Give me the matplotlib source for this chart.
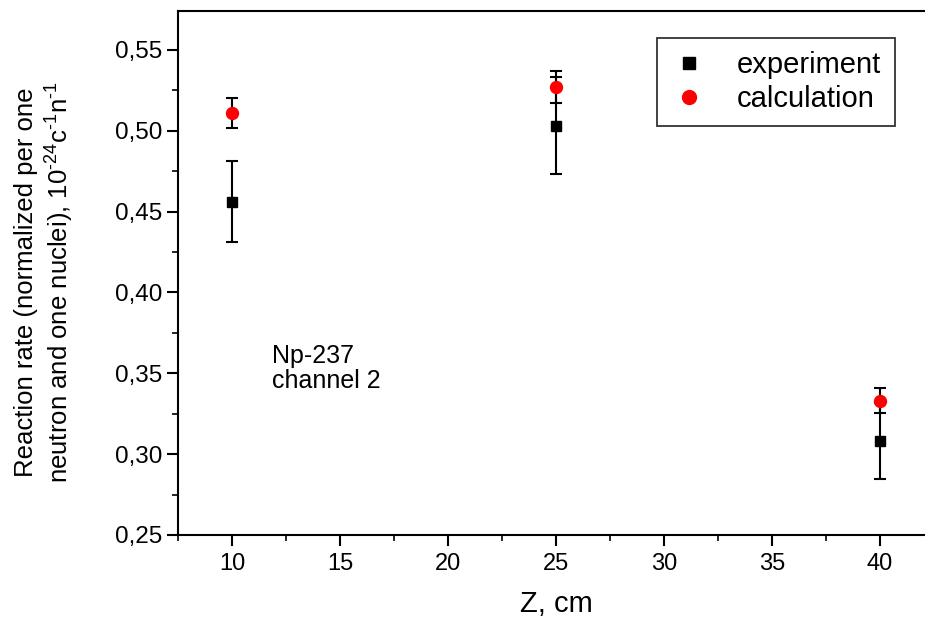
import matplotlib
matplotlib.use("Agg")
import matplotlib.pyplot as plt
from matplotlib.ticker import MultipleLocator, FuncFormatter
from matplotlib.lines import Line2D

# Measurement positions along the channel and reaction rates
z_cm = [10, 25, 40]
experiment = [0.456, 0.503, 0.308]
experiment_err = [0.025, 0.030, 0.0235]
calculation = [0.511, 0.527, 0.333]
calculation_err = [0.0095, 0.0098, 0.0078]

plt.rcParams["font.family"] = ["Liberation Sans", "DejaVu Sans"]
plt.rcParams["mathtext.fontset"] = "custom"
plt.rcParams["mathtext.rm"] = "Liberation Sans"
plt.rcParams["mathtext.default"] = "regular"

fig = plt.figure(figsize=(9.25, 6.22), dpi=100)
ax = fig.add_axes([178 / 925, 87 / 622, 756 / 925, 524 / 622])

ax.errorbar(z_cm, experiment, yerr=experiment_err, fmt="s", color="black",
            markersize=7, mfc="black", mec="black", ecolor="black",
            elinewidth=1.5, capsize=4.2, capthick=1.5, zorder=3)
ax.errorbar(z_cm, calculation, yerr=calculation_err, fmt="o", color="red",
            markersize=8.6, mfc="red", mec="red", ecolor="black",
            elinewidth=1.5, capsize=4.2, capthick=1.5, zorder=4)

ax.set_xlim(7.5, 42.5)
ax.set_ylim(0.25, 0.574)

ax.xaxis.set_major_locator(MultipleLocator(5))
ax.xaxis.set_minor_locator(MultipleLocator(2.5))
ax.yaxis.set_major_locator(MultipleLocator(0.05))
ax.yaxis.set_minor_locator(MultipleLocator(0.025))
ax.yaxis.set_major_formatter(FuncFormatter(lambda v, p: f"{v:.2f}".replace(".", ",")))

ax.spines["right"].set_visible(False)
for s in ("left", "bottom", "top"):
    ax.spines[s].set_linewidth(1.5)

ax.tick_params(axis="both", which="major", direction="out", length=8, width=1.5,
               top=False, right=False)
ax.tick_params(axis="both", which="minor", direction="out", length=4, width=1.2,
               top=False, right=False)
ax.tick_params(axis="y", labelsize=17.5, pad=3)
ax.tick_params(axis="x", labelsize=17, pad=5)

ax.set_xlabel("Z, cm", fontsize=21, labelpad=11)
ax.set_ylabel("Reaction rate (normalized per one\nneutron and one nuclei), 10$^{\u201024}$c$^{\u20101}$n$^{\u20101}$",
              fontsize=18.5, labelpad=28, linespacing=1.25)
ax.yaxis.label.set_y(0.483)

fig.text(272 / 925, 1 - 344 / 622, "Np-237\nchannel 2", fontsize=18, va="top", ha="left",
         linespacing=1.05)

handles = [
    Line2D([], [], linestyle="none", marker="s", markersize=8, mfc="black", mec="black"),
    Line2D([], [], linestyle="none", marker="o", markersize=10, mfc="red", mec="red"),
]
leg = ax.legend(handles, ["experiment", "calculation"], loc="upper left",
                bbox_to_anchor=(657 / 925, 1 - 38 / 622), bbox_transform=fig.transFigure,
                fontsize=21, frameon=True, fancybox=False, handlelength=1.3,
                handletextpad=1.0, borderpad=0.45, labelspacing=0.2, borderaxespad=0)
leg.get_frame().set_edgecolor("black")
leg.get_frame().set_linewidth(1.3)

fig.savefig("out.png", dpi=100)
